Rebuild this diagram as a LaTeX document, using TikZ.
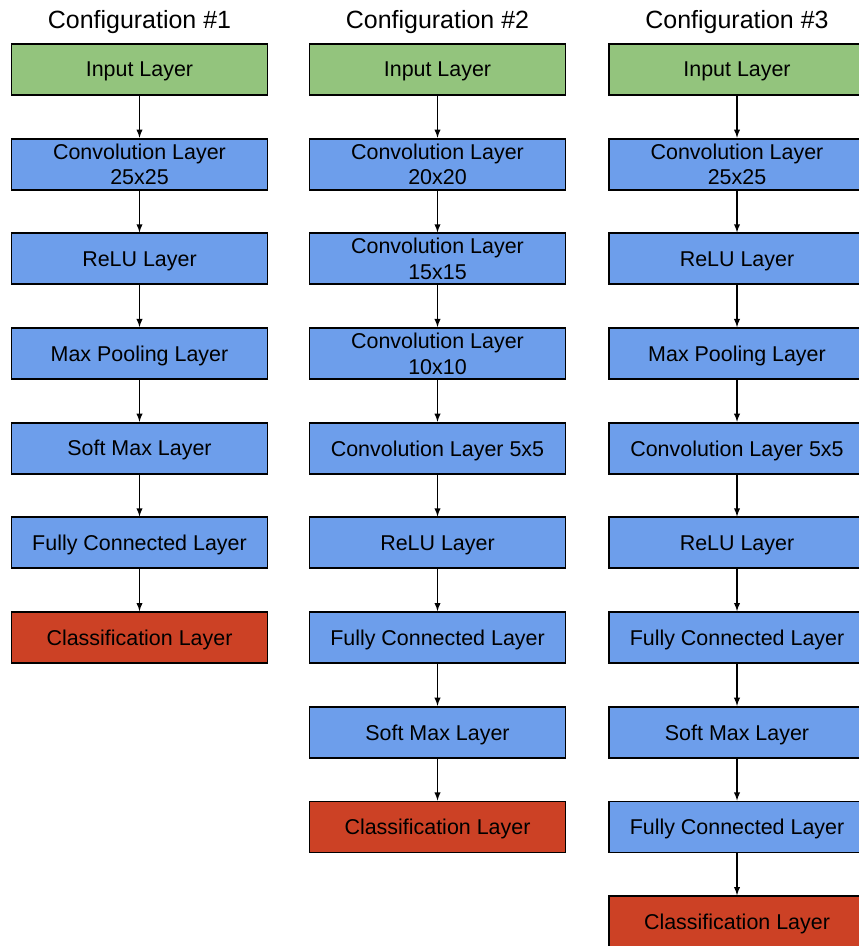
\documentclass[tikz,border=0pt]{standalone}
\usepackage{fontspec}
\setmainfont{Liberation Sans}
\usetikzlibrary{positioning, arrows}
\usepackage{xcolor}
\definecolor{inputGreen}{RGB}{147, 196, 125}
\definecolor{layerBlue}{RGB}{109, 158, 235}
\definecolor{outputRed}{RGB}{204, 65, 37}

\begin{document}
\begin{tikzpicture}
    [
        node distance=0.835cm,
        layer/.style={
            draw, rectangle, line width=1.1pt, fill=layerBlue,
            minimum width=5.12cm, minimum height=1.02cm, inner sep=0pt,
            align=center, text depth=0pt,
            font=\fontsize{12.2}{14.6}\selectfont
        },
        inlayer/.style={layer, fill=inputGreen},
        outlayer/.style={layer, fill=outputRed},
        title/.style={inner sep=0pt, font=\fontsize{14.2}{17}\selectfont},
        link/.style={-latex, line width=0.6pt}
    ]

\useasboundingbox (0,0) rectangle (17.16,-18.92);

% Configuration 1
\node (in-a) [inlayer] at (2.79,-1.39) {Input Layer};
\node (title-a) [title, above=0.17cm of in-a] {Configuration \#1};
\node (conv-a) [layer, below=of in-a] {Convolution Layer\\25x25};
\node (relu-a) [layer, below=of conv-a] {ReLU Layer};
\node (pool-a) [layer, below=of relu-a] {Max Pooling Layer};
\node (smax-a) [layer, below=of pool-a] {Soft Max Layer};
\node (fc-a) [layer, below=of smax-a] {Fully Connected Layer};
\node (cls-a) [outlayer, below=of fc-a] {Classification Layer};

% Configuration 2
\node (in-b) [inlayer] at (8.75,-1.39) {Input Layer};
\node (title-b) [title, above=0.17cm of in-b] {Configuration \#2};
\node (conv1-b) [layer, below=of in-b] {Convolution Layer\\20x20};
\node (conv2-b) [layer, below=of conv1-b] {Convolution Layer\\15x15};
\node (conv3-b) [layer, below=of conv2-b] {Convolution Layer\\10x10};
\node (conv4-b) [layer, below=of conv3-b] {Convolution Layer 5x5};
\node (relu-b) [layer, below=of conv4-b] {ReLU Layer};
\node (fc-b) [layer, below=of relu-b] {Fully Connected Layer};
\node (smax-b) [layer, below=of fc-b] {Soft Max Layer};
\node (cls-b) [outlayer, below=of smax-b] {Classification Layer};

% Configuration 3
\node (in-c) [inlayer] at (14.74,-1.39) {Input Layer};
\node (title-c) [title, above=0.17cm of in-c] {Configuration \#3};
\node (conv1-c) [layer, below=of in-c] {Convolution Layer\\25x25};
\node (relu1-c) [layer, below=of conv1-c] {ReLU Layer};
\node (pool-c) [layer, below=of relu1-c] {Max Pooling Layer};
\node (conv2-c) [layer, below=of pool-c] {Convolution Layer 5x5};
\node (relu2-c) [layer, below=of conv2-c] {ReLU Layer};
\node (fc1-c) [layer, below=of relu2-c] {Fully Connected Layer};
\node (smax-c) [layer, below=of fc1-c] {Soft Max Layer};
\node (fc2-c) [layer, below=of smax-c] {Fully Connected Layer};
\node (cls-c) [outlayer, below=of fc2-c] {Classification Layer};

% Arrows
\draw [link] (in-a) -- (conv-a);
\draw [link] (conv-a) -- (relu-a);
\draw [link] (relu-a) -- (pool-a);
\draw [link] (pool-a) -- (smax-a);
\draw [link] (smax-a) -- (fc-a);
\draw [link] (fc-a) -- (cls-a);

\draw [link] (in-b) -- (conv1-b);
\draw [link] (conv1-b) -- (conv2-b);
\draw [link] (conv2-b) -- (conv3-b);
\draw [link] (conv3-b) -- (conv4-b);
\draw [link] (conv4-b) -- (relu-b);
\draw [link] (relu-b) -- (fc-b);
\draw [link] (fc-b) -- (smax-b);
\draw [link] (smax-b) -- (cls-b);

\draw [link] (in-c) -- (conv1-c);
\draw [link] (conv1-c) -- (relu1-c);
\draw [link] (relu1-c) -- (pool-c);
\draw [link] (pool-c) -- (conv2-c);
\draw [link] (conv2-c) -- (relu2-c);
\draw [link] (relu2-c) -- (fc1-c);
\draw [link] (fc1-c) -- (smax-c);
\draw [link] (smax-c) -- (fc2-c);
\draw [link] (fc2-c) -- (cls-c);

\end{tikzpicture}
\end{document}
